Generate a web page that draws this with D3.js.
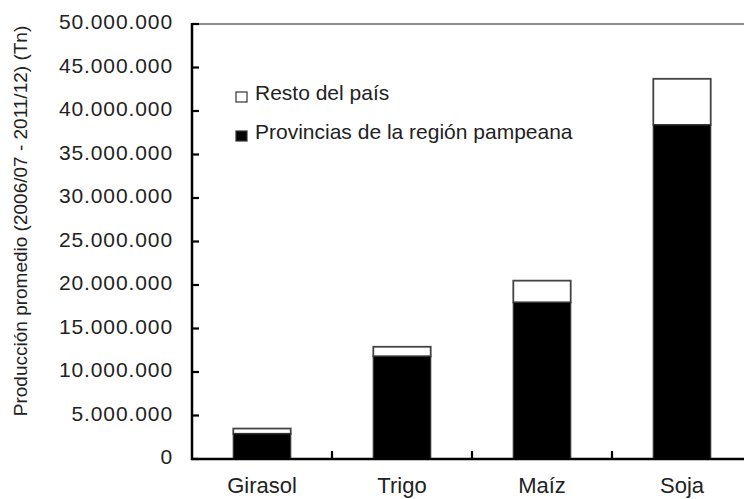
<!DOCTYPE html>
<html>
<head>
<meta charset="utf-8">
<script src="https://cdn.jsdelivr.net/npm/d3@7"></script>
<style>
  body { margin: 0; background: #fff; }
  svg { display: block; font-family: "Liberation Sans", Arial, sans-serif; }
</style>
</head>
<body>
<div id="chart"></div>
<script>
// Chart data (tonnes, averages 2006/07 - 2011/12)
const categories = ["Girasol", "Trigo", "Maíz", "Soja"];
const pampeana = [2900000, 11800000, 18000000, 38400000];
const resto = [600000, 1100000, 2500000, 5300000];
const yTicks = [0, 5000000, 10000000, 15000000, 20000000, 25000000, 30000000, 35000000, 40000000, 45000000, 50000000];
const seriesNames = ["Resto del país", "Provincias de la región pampeana"];

const width = 744, height = 499;
const plotLeft = 192, plotBottom = 459, plotTop = 24;

const svg = d3.select("#chart").append("svg")
  .attr("width", width)
  .attr("height", height);

// scales
const x = d3.scaleBand().domain(categories).range([plotLeft, 752]);
const y = d3.scaleLinear().domain([0, 50000000]).range([plotBottom, plotTop]);
const barW = x.bandwidth() * 0.41;

const fmt = d3.formatLocale({decimal: ",", thousands: ".", grouping: [3], currency: ["$", ""]}).format(",");

// top frame line
svg.append("line")
  .attr("x1", plotLeft).attr("x2", width)
  .attr("y1", plotTop).attr("y2", plotTop)
  .attr("stroke", "#666").attr("stroke-width", 1.5);

// bars: pampeana at the bottom, resto stacked on top
const rows = categories.map((c, i) => ({cat: c, p: pampeana[i], r: resto[i]}));

svg.selectAll("rect.resto")
  .data(rows)
  .join("rect")
  .attr("class", "resto")
  .attr("x", d => x(d.cat) + (x.bandwidth() - barW) / 2)
  .attr("y", d => y(d.p + d.r))
  .attr("width", barW)
  .attr("height", d => y(d.p) - y(d.p + d.r))
  .attr("fill", "#fff")
  .attr("stroke", "#444")
  .attr("stroke-width", 1.8);

svg.selectAll("rect.pamp")
  .data(rows)
  .join("rect")
  .attr("class", "pamp")
  .attr("x", d => x(d.cat) + (x.bandwidth() - barW) / 2)
  .attr("y", d => y(d.p))
  .attr("width", barW)
  .attr("height", d => y(0) - y(d.p))
  .attr("fill", "#000")
  .attr("stroke", "#333")
  .attr("stroke-width", 1.2);

// y axis
const yAxis = svg.append("g");
yAxis.append("line")
  .attr("x1", plotLeft).attr("x2", plotLeft)
  .attr("y1", plotTop - 1).attr("y2", plotBottom + 1)
  .attr("stroke", "#000").attr("stroke-width", 2.5);
yAxis.selectAll("line.tick")
  .data(yTicks)
  .join("line")
  .attr("class", "tick")
  .attr("x1", plotLeft).attr("x2", plotLeft + 7)
  .attr("y1", d => y(d)).attr("y2", d => y(d))
  .attr("stroke", "#000").attr("stroke-width", 2.2);
yAxis.selectAll("text")
  .data(yTicks)
  .join("text")
  .attr("x", 173)
  .attr("y", d => y(d) + 5)
  .attr("text-anchor", "end")
  .attr("font-size", "21px")
  .attr("letter-spacing", "0.9px")
  .attr("fill", "#222")
  .text(d => fmt(d));

// x axis
const xAxis = svg.append("g");
xAxis.append("line")
  .attr("x1", plotLeft - 1).attr("x2", width)
  .attr("y1", plotBottom).attr("y2", plotBottom)
  .attr("stroke", "#000").attr("stroke-width", 2.5);
xAxis.selectAll("line.tick")
  .data(categories.slice(1))
  .join("line")
  .attr("class", "tick")
  .attr("x1", d => x(d)).attr("x2", d => x(d))
  .attr("y1", plotBottom).attr("y2", plotBottom - 8)
  .attr("stroke", "#000").attr("stroke-width", 2.2);
xAxis.selectAll("text")
  .data(categories)
  .join("text")
  .attr("x", d => x(d) + x.bandwidth() / 2)
  .attr("y", 493)
  .attr("text-anchor", "middle")
  .attr("font-size", "22px")
  .attr("fill", "#222")
  .text(d => d);

// y axis title
svg.append("text")
  .attr("transform", "translate(27,221) rotate(-90)")
  .attr("text-anchor", "middle")
  .attr("font-size", "19px")
  .attr("fill", "#222")
  .text("Producción promedio (2006/07 - 2011/12) (Tn)");

// legend
const legend = svg.append("g");
const legendY = [100, 139];
legend.selectAll("rect")
  .data(seriesNames)
  .join("rect")
  .attr("x", 236)
  .attr("y", (d, i) => legendY[i] - 8)
  .attr("width", 11)
  .attr("height", 10)
  .attr("fill", (d, i) => i === 0 ? "#fff" : "#000")
  .attr("stroke", "#333")
  .attr("stroke-width", 1.2);
legend.selectAll("text")
  .data(seriesNames)
  .join("text")
  .attr("x", 255)
  .attr("y", (d, i) => legendY[i])
  .attr("font-size", "21px")
  .attr("fill", "#222")
  .text(d => d);
</script>
</body>
</html>
